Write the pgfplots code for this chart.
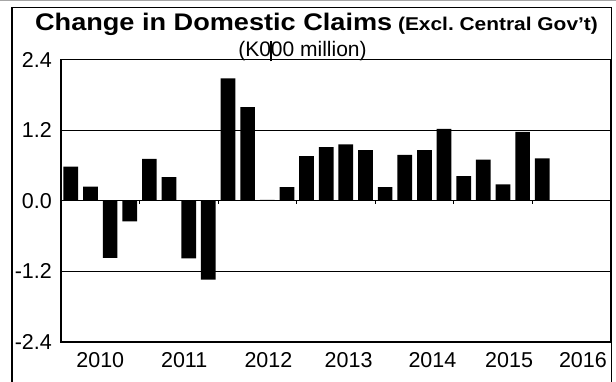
\documentclass[border=0pt]{standalone}
\usepackage{fontspec}
\setmainfont{Liberation Sans}
\usepackage{pgfplots}
\pgfplotsset{compat=1.18}
\begin{document}
\begin{tikzpicture}[x=1bp,y=1bp]
\useasboundingbox (0,0) rectangle (616,381);
% page top rule and outer frame
\draw[gray!70, line width=1.3bp] (0,380.4) -- (616,380.4);
\draw[black, line width=1.6bp] (11.8,-2) -- (11.8,373.5) -- (611.5,373.5) -- (611.5,-2);
\begin{axis}[
  at={(61bp,39bp)}, anchor=south west,
  width=550bp, height=282.5bp, scale only axis,
  xmin=0.5, xmax=28.5, ymin=-2.4, ymax=2.4,
  ybar, bar width=14.7bp, bar shift=0pt,
  axis line style={black, line width=1.1bp},
  ytick={-2.4,-1.2,0,1.2,2.4},
  yticklabels={-2.4,-1.2,0.0,1.2,2.4},
  xtick={2.5,6.77,11.06,15.14,19.41,23.31,27.07},
  xticklabels={2010,2011,2012,2013,2014,2015,2016},
  major tick length=0pt,
  ymajorgrids, major grid style={black, line width=0.9bp},
  tick label style={font=\fontsize{21.5bp}{21.5bp}\selectfont},
  yticklabel style={anchor=east, inner sep=0pt, xshift=-9bp},
  xticklabel style={anchor=north, inner sep=0pt, yshift=-10bp},
  clip=false,
]
\addplot[fill=black, draw=none] coordinates {
(1,0.58) (2,0.24) (3,-0.97) (4,-0.35) (5,0.71) (6,0.40) (7,-0.98) (8,-1.34)
(9,2.08) (10,1.59) (11,0.015) (12,0.23) (13,0.76) (14,0.91) (15,0.96) (16,0.86)
(17,0.23) (18,0.78) (19,0.86) (20,1.22) (21,0.42) (22,0.70) (23,0.28) (24,1.17)
(25,0.72)
};
\draw[black, line width=1.1bp] (axis cs:0.5,0) -- (axis cs:28.5,0);
\draw[black, line width=0.8bp] (axis cs:4.5,0) -- ++(0pt,-3bp);
\draw[black, line width=0.8bp] (axis cs:8.5,0) -- ++(0pt,-3bp);
\draw[black, line width=0.8bp] (axis cs:12.5,0) -- ++(0pt,-3bp);
\draw[black, line width=0.8bp] (axis cs:16.5,0) -- ++(0pt,-3bp);
\draw[black, line width=0.8bp] (axis cs:20.5,0) -- ++(0pt,-3bp);
\draw[black, line width=0.8bp] (axis cs:24.5,0) -- ++(0pt,-3bp);
\end{axis}
\node[anchor=base, inner sep=0pt] at (316.5,351) {\scalebox{1.13}[1]{\bfseries\fontsize{24bp}{24bp}\selectfont Change in Domestic Claims\fontsize{18.5bp}{18.5bp}\selectfont{} (Excl.\ Central Gov’t)}};
\node[anchor=base, inner sep=0pt] at (302.5,325) {\fontsize{21bp}{21bp}\selectfont (K0\rlap{\kern-0.04em\rule[-0.25em]{0.07em}{0.98em}}00 million)};
\end{tikzpicture}
\end{document}
